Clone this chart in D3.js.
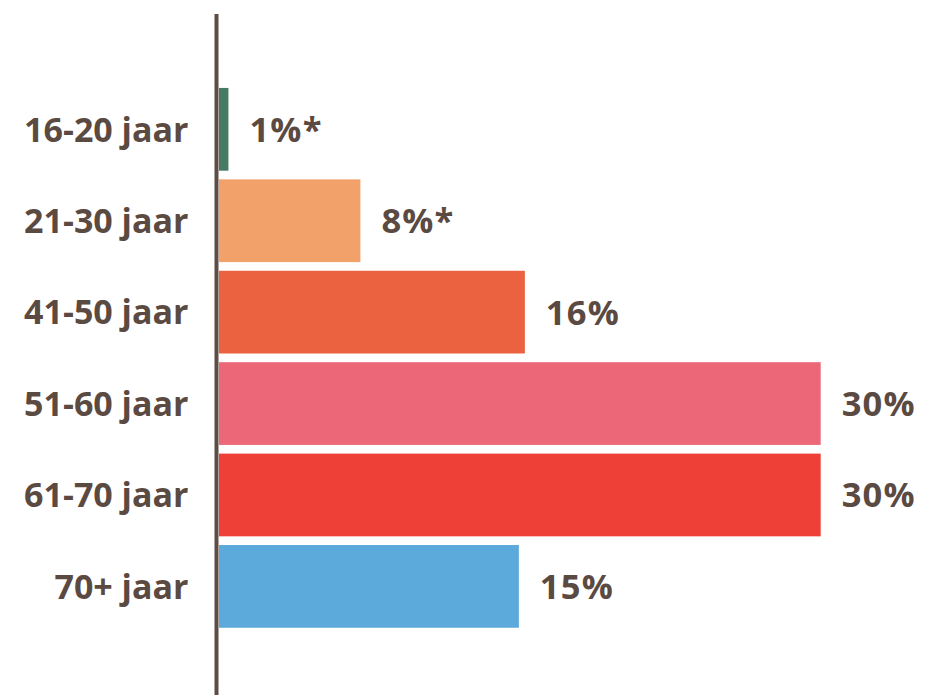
<!DOCTYPE html>
<html>
<head>
<meta charset="utf-8">
<script src="https://cdn.jsdelivr.net/npm/d3@7"></script>
<style>
  html, body { margin: 0; padding: 0; background: #ffffff; }
  svg { display: block; }
  text { font-family: "Open Sans", Lato, sans-serif; font-weight: 700; fill: #5b4a42; }
</style>
</head>
<body>
<script>
const categories = ["16-20 jaar", "21-30 jaar", "41-50 jaar", "51-60 jaar", "61-70 jaar", "70+ jaar"];
const values = [0.47, 7.05, 15.25, 30, 30, 14.95];
const valueLabels = ["1%*", "8%*", "16%", "30%", "30%", "15%"];
const colors = ["#467a62", "#f2a16b", "#ea6240", "#ec6878", "#ee4036", "#5caadb"];

const W = 926, H = 695;
const svg = d3.select("body").append("svg").attr("width", W).attr("height", H);

const x = d3.scaleLinear().domain([0, 30]).range([219, 820.7]);
const y = d3.scaleBand().domain(categories).range([83.6, 632.1]).paddingInner(0.095).paddingOuter(0.0475);

svg.selectAll("rect.bar").data(categories).join("rect")
  .attr("class", "bar")
  .attr("x", x(0))
  .attr("y", d => y(d))
  .attr("width", (d, i) => x(values[i]) - x(0))
  .attr("height", y.bandwidth())
  .attr("fill", (d, i) => colors[i]);

const yAxis = d3.axisLeft(y).tickSize(0).tickPadding(28);
const gy = svg.append("g").attr("transform", `translate(${x(0) - 2.5},0)`).call(yAxis);
gy.select(".domain").remove();
gy.selectAll("text").attr("font-size", 34).attr("dy", "0.36em")
  .style("font-family", "'Open Sans', Lato, sans-serif").style("font-weight", 700).attr("fill", "#5b4a42");

svg.append("line")
  .attr("x1", x(0) - 2.5).attr("x2", x(0) - 2.5)
  .attr("y1", 14).attr("y2", H)
  .attr("stroke", "#5e4d45").attr("stroke-width", 4);

svg.selectAll("text.val").data(categories).join("text")
  .attr("class", "val")
  .attr("x", (d, i) => x(values[i]) + 21)
  .attr("y", d => y(d) + y.bandwidth() / 2)
  .attr("dy", "0.36em")
  .attr("font-size", 34.5)
  .attr("letter-spacing", 1.2)
  .text((d, i) => valueLabels[i]);
</script>
</body>
</html>
